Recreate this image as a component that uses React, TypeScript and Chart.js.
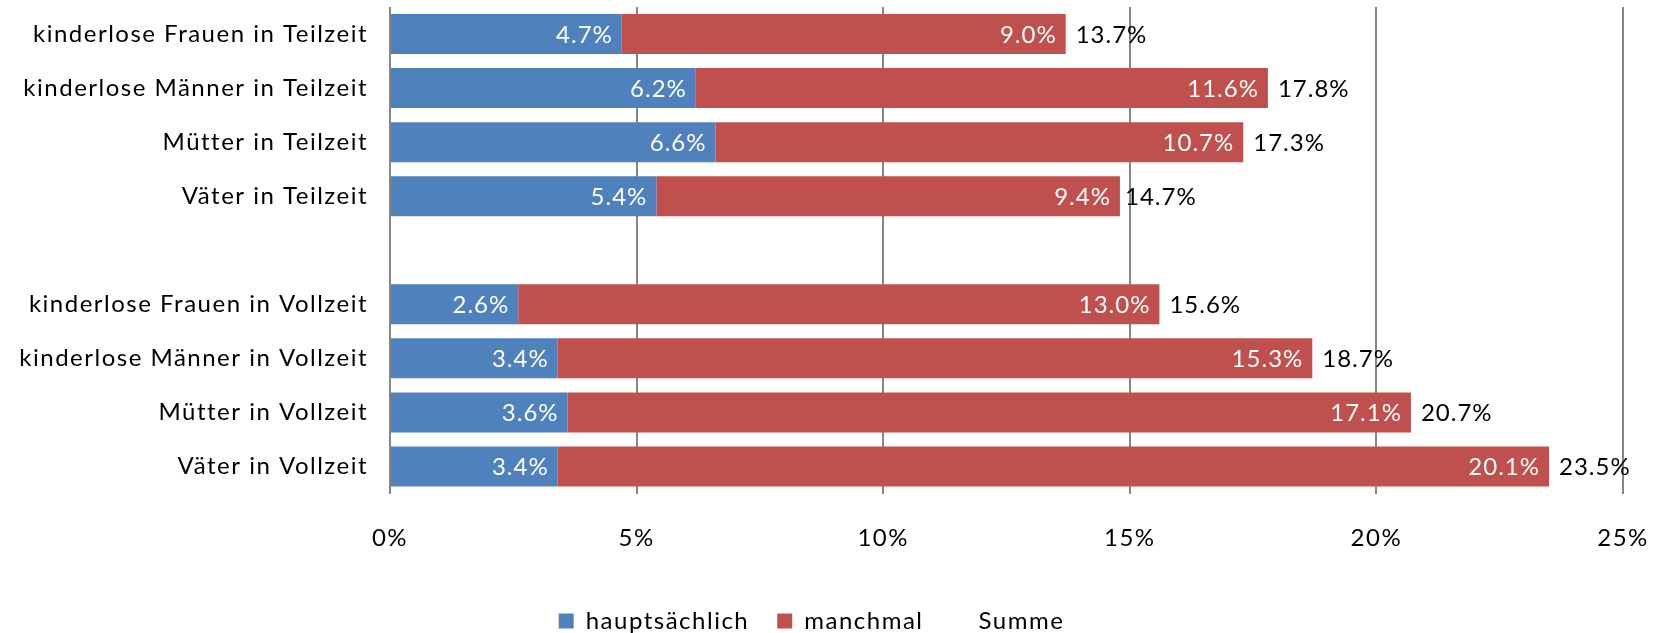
import React, { useEffect, useRef } from "react";
import { Chart, registerables } from "chart.js";

Chart.register(...registerables);

const categories = [
  "kinderlose Frauen in Teilzeit",
  "kinderlose Männer in Teilzeit",
  "Mütter in Teilzeit",
  "Väter in Teilzeit",
  "",
  "kinderlose Frauen in Vollzeit",
  "kinderlose Männer in Vollzeit",
  "Mütter in Vollzeit",
  "Väter in Vollzeit",
];
const hauptsaechlich = [4.7, 6.2, 6.6, 5.4, null, 2.6, 3.4, 3.6, 3.4];
const manchmal = [9.0, 11.6, 10.7, 9.4, null, 13.0, 15.3, 17.1, 20.1];
const summe = [13.7, 17.8, 17.3, 14.7, null, 15.6, 18.7, 20.7, 23.5];
const xTicks = [0, 5, 10, 15, 20, 25];

const FONT = "Lato, 'Liberation Sans', sans-serif";
const FS = 24;
const SPACING = "1.5px";

const spacingPlugin = {
  id: "spacing",
  beforeLayout(chart: any) {
    chart.ctx.letterSpacing = SPACING;
  },
  beforeDraw(chart: any) {
    chart.ctx.letterSpacing = SPACING;
  },
};

const labelPlugin = {
  id: "barLabels",
  afterDatasetsDraw(chart: any) {
    const ctx = chart.ctx;
    ctx.save();
    ctx.letterSpacing = "1px";
    ctx.font = `${FS}px ${FONT}`;
    ctx.textBaseline = "middle";
    chart.data.datasets.forEach((ds: any, di: number) => {
      const meta = chart.getDatasetMeta(di);
      meta.data.forEach((bar: any, i: number) => {
        const v = ds.data[i];
        if (v === null || v === undefined) return;
        const text = v.toFixed(1) + "%";
        if (di < 2) {
          ctx.fillStyle = "#ffffff";
          ctx.textAlign = "right";
          ctx.fillText(text, bar.x - 9, bar.y + 1);
        } else {
          ctx.fillStyle = "#000000";
          ctx.textAlign = "left";
          ctx.fillText(text, bar.x + 10, bar.y + 1);
        }
      });
    });
    ctx.restore();
  },
};

export default function App() {
  const ref = useRef<HTMLCanvasElement>(null);
  useEffect(() => {
    document.body.style.margin = "0";
    const chart = new Chart(ref.current!, {
      type: "bar",
      data: {
        labels: categories,
        datasets: [
          {
            label: "hauptsächlich",
            data: hauptsaechlich,
            backgroundColor: "#4F81BD",
            borderWidth: 0,
            categoryPercentage: 1,
            barPercentage: 0.74,
          },
          {
            label: "manchmal",
            data: manchmal,
            backgroundColor: "#C0504D",
            borderWidth: 0,
            categoryPercentage: 1,
            barPercentage: 0.74,
          },
          {
            label: "Summe",
            data: summe,
            backgroundColor: "rgba(0,0,0,0)",
            borderWidth: 0,
            stack: "sum",
            grouped: false,
            categoryPercentage: 1,
            barPercentage: 0.74,
          } as any,
        ],
      },
      options: {
        indexAxis: "y",
        animation: false,
        responsive: false,
        devicePixelRatio: 1,
        layout: { padding: { top: 7, right: 42, left: 0, bottom: 0 } },
        plugins: {
          legend: {
            position: "bottom",
            maxHeight: 52,
            labels: {
              boxWidth: 15,
              boxHeight: 15,
              padding: 28,
              color: "#000",
              font: { family: FONT, size: FS },
            },
          },
          tooltip: { enabled: false },
        },
        scales: {
          x: {
            stacked: true,
            min: 0,
            max: 25,
            afterBuildTicks(scale: any) {
              scale.ticks = xTicks.map((v) => ({ value: v }));
            },
            afterFit(scale: any) {
              scale.height = 87.5;
              scale.paddingLeft = 0;
              scale.paddingRight = 0;
            },
            ticks: {
              padding: 30,
              color: "#000",
              font: { family: FONT, size: FS },
              callback: (v: any) => v + "%",
              maxRotation: 0,
            },
            grid: { color: "#868686", lineWidth: 2, drawTicks: false },
            border: { display: false },
          },
          y: {
            stacked: true,
            afterFit(scale: any) {
              scale.width = 390;
              scale.paddingTop = 0;
              scale.paddingBottom = 0;
            },
            ticks: {
              padding: 22,
              color: "#000",
              autoSkip: false,
              font: { family: FONT, size: FS },
            },
            grid: { display: false, drawTicks: false },
            border: { display: false },
          },
        },
      },
      plugins: [spacingPlugin, labelPlugin],
    });
    return () => chart.destroy();
  }, []);
  return (
    <div style={{ width: 1665, height: 633 }}>
      <canvas ref={ref} width={1665} height={633} style={{ display: "block" }} />
    </div>
  );
}
